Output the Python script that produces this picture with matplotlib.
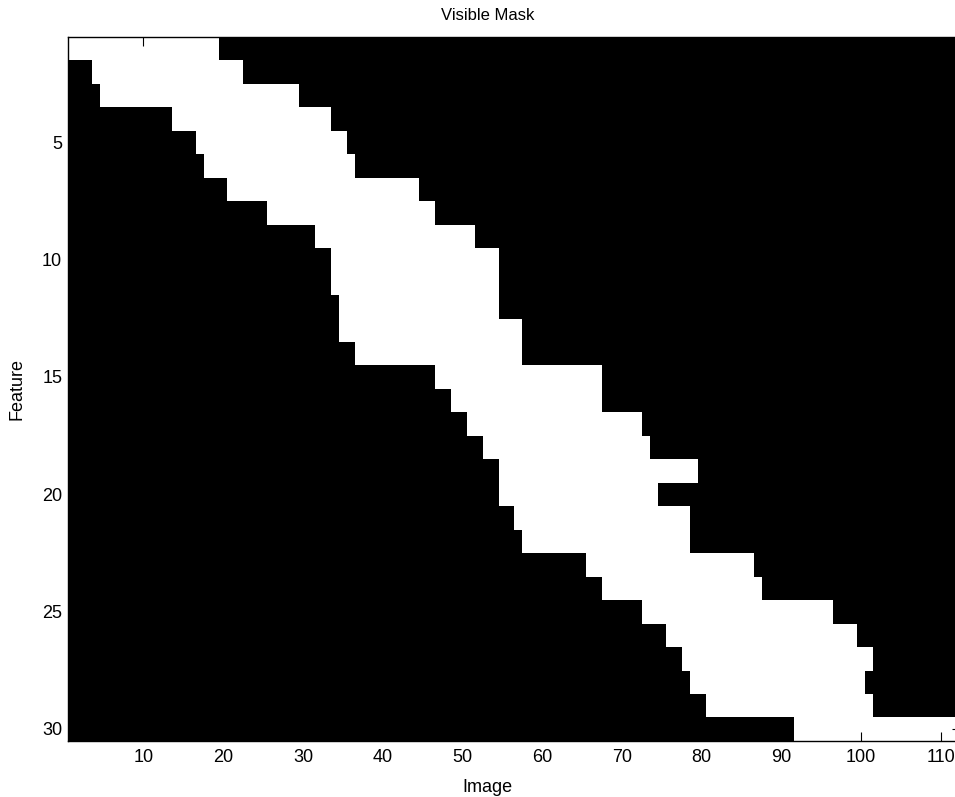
import numpy as np
import matplotlib
matplotlib.use('Agg')
import matplotlib.pyplot as plt

plt.rcParams['font.family'] = ['Liberation Sans', 'DejaVu Sans']

# Maska widoczności: dla każdej cechy (wiersza) zakres obrazów, w których jest widoczna
n_features = 30
n_images = 112
row_start = [1, 4, 5, 14, 17, 18, 21, 26, 32, 34,
             34, 35, 35, 37, 47, 49, 51, 53, 55, 55,
             57, 58, 66, 68, 73, 76, 78, 79, 81, 92]
row_end = [19, 22, 29, 33, 35, 36, 44, 46, 51, 54,
           54, 54, 57, 57, 67, 67, 72, 73, 79, 74,
           78, 78, 86, 87, 96, 99, 101, 100, 101, 112]
x_ticks = [10, 20, 30, 40, 50, 60, 70, 80, 90, 100, 110]
y_ticks = [5, 10, 15, 20, 25, 30]

mask = np.zeros((n_features, n_images))
for i, (s, e) in enumerate(zip(row_start, row_end)):
    mask[i, s - 1:e] = 1

W, H = 955, 797
fig = plt.figure(figsize=(W / 100, H / 100), dpi=100)
# oś wychodzi lekko poza prawą krawędź, jak w oryginale
ax = fig.add_axes([67.7 / W, 1 - 740.7 / H, 893.0 / W, 704.0 / H])
ax.imshow(mask, cmap='gray', vmin=0, vmax=1, interpolation='nearest',
          aspect='auto', extent=(0.5, n_images + 0.5, n_features + 0.5, 0.5))

ax.set_xticks(x_ticks)
ax.set_yticks(y_ticks)
ax.tick_params(direction='in', length=6.5, width=0.8, color='black',
               top=True, right=True, labelsize=13)
ax.tick_params(axis='x', pad=6)
ax.tick_params(axis='y', pad=4)
for sp in ax.spines.values():
    sp.set_linewidth(1.0)

ax.set_title('Visible Mask', fontsize=12, x=0.47, y=1.024, pad=0)
ax.set_xlabel('Image', fontsize=13, va='center')
ax.xaxis.set_label_coords(0.47, -0.066)
ax.set_ylabel('Feature', fontsize=13, va='center')
ax.yaxis.set_label_coords(-0.0568, 0.5)

fig.savefig('out.png', dpi=100)
